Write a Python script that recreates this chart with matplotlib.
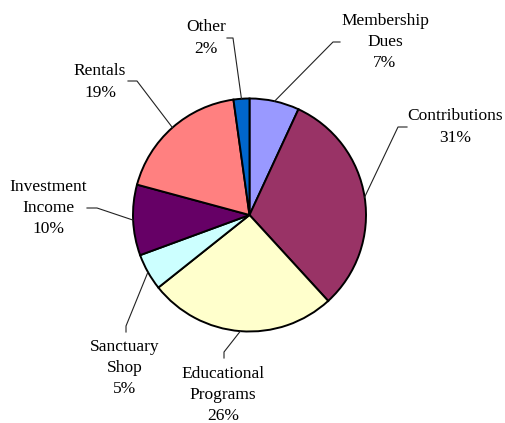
import matplotlib
matplotlib.use("Agg")
import matplotlib.pyplot as plt
import numpy as np

categories = ["Membership\nDues", "Contributions", "Educational\nPrograms", "Sanctuary\nShop",
              "Investment\nIncome", "Rentals", "Other"]
values = [6.9, 31.3, 26.1, 5.1, 9.8, 18.6, 2.2]
colors = ["#9999FF", "#993366", "#FFFFCC", "#CCFFFF", "#660066", "#FF8080", "#0066CC"]

# label layout (pixel coords): text center, elbow point, leader end point
text_pos = [(385, 42), (455, 127), (223, 395), (125, 368), (48, 208), (100, 82), (206, 38)]
elbows = [(333, 42), (398, 127), (224, 352), (126, 326), (97, 208), (137, 81), (233, 38)]
ends = [(340, 42), (407, 127), (224, 358), (126, 332), (87, 208), (128, 81), (227, 38)]

W, H = 506, 423
fig = plt.figure(figsize=(W / 100, H / 100), dpi=100)
ax = fig.add_axes([0, 0, 1, 1])
ax.set_xlim(0, W)
ax.set_ylim(H, 0)
ax.set_aspect("equal")
ax.axis("off")

cx, cy, r = 249.5, 215, 116.5
# y axis is inverted: start at screen top (data angle -90) and go counterclockwise in data
wedges, _ = ax.pie(values, colors=colors, startangle=-90, counterclock=True,
                   center=(cx, cy), radius=r,
                   wedgeprops=dict(edgecolor="black", linewidth=1.4))
ax.set_xlim(0, W)
ax.set_ylim(H, 0)

total = sum(values)
for i, (lab, v) in enumerate(zip(categories, values)):
    w = wedges[i]
    mid = np.deg2rad((w.theta1 + w.theta2) / 2)
    px = cx + r * np.cos(mid)
    py = cy + r * np.sin(mid)
    ex, ey = elbows[i]
    fx, fy = ends[i]
    ax.plot([px, ex, fx], [py, ey, fy], color="#222222", linewidth=0.8)
    pct = round(v / total * 100)
    ax.text(text_pos[i][0], text_pos[i][1], f"{lab}\n{pct}%", ha="center", va="center",
            fontsize=12.5, family="Liberation Serif", linespacing=1.42, color="#000000")

fig.savefig("out.png", dpi=100)
